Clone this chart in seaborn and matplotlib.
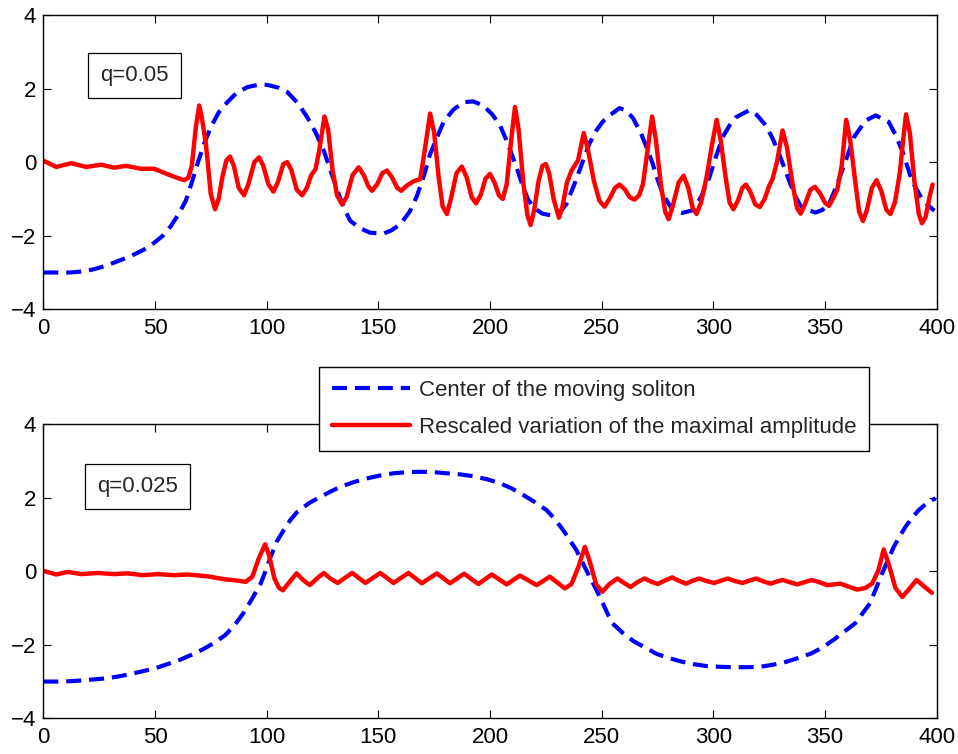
import matplotlib
matplotlib.use("Agg")
import matplotlib.pyplot as plt
import pandas as pd
import seaborn as sns

# ---- q = 0.05 (top panel) ----
top_center_x = [0, 5, 12, 17.7, 22, 27.4, 33, 39.3, 45, 49.7, 53.5, 57.1, 60.5, 63.8, 66.5, 69,
                72, 75, 78.5, 82.4, 86.5, 91.4, 96, 100.3, 105, 109.2, 114, 118.2, 122, 125.6,
                129, 132.3, 135, 137.5, 142, 146.4, 152.4, 156, 159.8, 164, 167.3, 170.5, 173.2,
                176.5, 179.2, 183.5, 188.1, 192.5, 197, 201, 204.5, 207.2, 209.7, 212.5, 214.9,
                217, 219.3, 223.5, 228.3, 231.5, 234.2, 237.8, 241.7, 244.5, 247.6, 250.5, 253.6,
                258, 261, 264, 267.7, 270.5, 272.9, 275.2, 277.4, 281.8, 286, 290.8, 294.5, 298.2,
                301.2, 304.2, 307.3, 310.1, 316.1, 319.5, 323.5, 326.5, 329.5, 334, 336.5, 339.1,
                342.5, 345.8, 348.8, 351.8, 354.5, 357.7, 360.5, 363, 368.2, 372.7, 378.6, 381.5,
                384.6, 389, 393.4, 397.2, 399]
top_center_y = [-3.0, -3.0, -3.0, -2.97, -2.92, -2.83, -2.7, -2.55, -2.38, -2.19, -2.0, -1.74,
                -1.42, -1.05, -0.55, -0.05, 0.5, 0.95, 1.35, 1.63, 1.88, 2.04, 2.1, 2.1, 2.03,
                1.91, 1.6, 1.22, 0.8, 0.31, -0.3, -0.87, -1.3, -1.6, -1.8, -1.92, -1.94, -1.85,
                -1.69, -1.35, -0.92, -0.35, 0.22, 0.7, 1.09, 1.42, 1.63, 1.65, 1.54, 1.3, 1.0,
                0.62, 0.22, -0.25, -0.69, -1.0, -1.23, -1.4, -1.46, -1.35, -1.14, -0.6, 0.04,
                0.5, 0.86, 1.1, 1.27, 1.47, 1.4, 1.2, 0.77, 0.35, -0.05, -0.5, -0.87, -1.31,
                -1.38, -1.31, -0.95, -0.42, 0.15, 0.68, 1.0, 1.22, 1.41, 1.28, 1.0, 0.65, 0.22,
                -0.51, -0.9, -1.19, -1.3, -1.37, -1.3, -1.14, -0.75, -0.23, 0.25, 0.68, 1.13,
                1.27, 1.09, 0.75, 0.31, -0.51, -1.0, -1.23, -1.32]

top_amp_x = [0, 5.8, 12.5, 19.2, 25.9, 31.8, 37, 43.8, 49.7, 55.7, 61, 63.1, 65, 66.5, 68.3,
             69.8, 71, 72.8, 75, 76.9, 78.5, 80.2, 82, 83.6, 85.3, 87.5, 89.9, 91.8, 94.5, 96.6,
             98.5, 100.8, 103, 105, 107.5, 109.2, 111, 113.5, 115.9, 118, 120, 121.9, 123.5,
             125.9, 127.5, 129.5, 131.5, 133.8, 135.8, 138.5, 141.2, 143.5, 145.5, 147.2, 149.5,
             151.8, 153.9, 156, 158.5, 160.3, 162.5, 165.8, 168.75, 170.5, 173.2, 175, 177,
             178.8, 180.7, 182.5, 185, 187.4, 189.5, 191.8, 193.75, 195.8, 198, 200, 202, 204,
             205.7, 207.5, 209.5, 211.2, 212.8, 215, 216.8, 218.2, 219.8, 221.8, 223.5, 225,
             226.5, 228.5, 230.9, 232.5, 234.5, 236.5, 239.4, 242, 244, 246.5, 249, 251.3,
             253.5, 256, 258, 260.5, 262.5, 264.7, 266.8, 268.5, 270.5, 272.6, 274.3, 276.5,
             278.5, 280, 281.8, 284.5, 286.7, 288.8, 290.8, 292.5, 294.5, 297, 299.5, 301.5,
             303.3, 305.5, 307.3, 309, 311, 313, 314.6, 316.5, 318.8, 320.8, 323, 325, 326.5,
             328.5, 331, 333, 335.5, 337.5, 339.1, 341, 343.5, 345.5, 347.8, 350, 351.8, 353.5,
             355.5, 357.5, 359.5, 361.3, 363.5, 365.3, 367, 368.8, 371, 373.1, 375.3, 377.5,
             379.3, 381.3, 383.5, 385, 386.3, 388, 390, 392, 393.4, 395, 397, 398.2]
top_amp_y = [0.04, -0.13, -0.03, -0.13, -0.07, -0.15, -0.1, -0.18, -0.18, -0.33, -0.45, -0.49,
             -0.42, -0.1, 0.95, 1.54, 1.2, 0.5, -0.87, -1.28, -1.0, -0.4, 0.05, 0.15, -0.1,
             -0.7, -0.9, -0.6, 0.0, 0.13, -0.1, -0.6, -0.8, -0.55, -0.05, 0.0, -0.2, -0.75,
             -0.9, -0.7, -0.35, -0.19, 0.3, 1.24, 0.9, -0.2, -0.9, -1.15, -0.95, -0.35, -0.14,
             -0.35, -0.65, -0.78, -0.6, -0.3, -0.23, -0.4, -0.7, -0.78, -0.65, -0.52, -0.46,
             0.2, 1.32, 0.8, -0.4, -1.2, -1.41, -1.0, -0.3, -0.12, -0.4, -0.95, -1.12, -0.9,
             -0.45, -0.32, -0.55, -0.9, -1.0, -0.6, 0.6, 1.5, 0.9, -0.6, -1.45, -1.71, -1.3,
             -0.5, -0.1, -0.05, -0.3, -1.0, -1.51, -1.2, -0.55, -0.23, 0.04, 0.79, 0.3, -0.5,
             -1.05, -1.21, -1.0, -0.7, -0.61, -0.75, -0.95, -1.02, -0.9, -0.6, 0.3, 1.24, 0.6,
             -0.6, -1.35, -1.55, -1.2, -0.55, -0.37, -0.7, -1.25, -1.41, -1.1, -0.4, 0.5, 1.15,
             0.6, -0.4, -1.1, -1.28, -1.05, -0.7, -0.61, -0.8, -1.15, -1.22, -1.0, -0.65, -0.46,
             0.0, 0.86, 0.4, -0.6, -1.25, -1.4, -1.15, -0.75, -0.67, -0.85, -1.1, -1.19, -1.0,
             -0.75, -0.1, 1.15, 0.6, -0.5, -1.35, -1.6, -1.3, -0.7, -0.49, -0.8, -1.3, -1.41,
             -1.1, -0.3, 0.6, 1.3, 0.8, -0.5, -1.4, -1.66, -1.5, -0.9, -0.61]

# ---- q = 0.025 (bottom panel) ----
bot_center_x = [0, 3, 9, 15, 21, 26.9, 33, 38.8, 44.5, 50, 55.5, 61.2, 66.5, 71.6, 76.5, 81.4,
                85.5, 89.6, 93.5, 97.3, 99.5, 101.8, 104.5, 107.7, 110.5, 113.7, 119, 124.1,
                128.5, 133, 139, 144.9, 150.8, 156.8, 162.8, 168.75, 174.7, 180.7, 186.7, 192.6,
                198.5, 204.5, 209.7, 214.9, 220, 225.3, 229, 232.7, 235.7, 238.7, 241.7, 244.6,
                247.6, 250.6, 254.5, 259.5, 264.2, 269.5, 274.7, 280, 285.9, 291.5, 297, 303,
                309, 315, 320.9, 327, 332.9, 338.5, 344.1, 349, 353.8, 358.5, 363.5, 366.8, 370.2,
                373, 375.6, 378.2, 380.8, 383.5, 386, 389, 392, 396.4, 399.5]
bot_center_y = [-3.0, -3.0, -3.0, -2.98, -2.95, -2.92, -2.87, -2.8, -2.72, -2.64, -2.53, -2.41,
                -2.27, -2.12, -1.95, -1.74, -1.48, -1.14, -0.75, -0.34, 0.0, 0.39, 0.8, 1.12,
                1.38, 1.61, 1.85, 2.02, 2.16, 2.29, 2.42, 2.52, 2.6, 2.66, 2.69, 2.7, 2.69, 2.66,
                2.63, 2.58, 2.5, 2.39, 2.25, 2.07, 1.88, 1.66, 1.42, 1.12, 0.85, 0.57, 0.2, -0.15,
                -0.5, -0.88, -1.4, -1.68, -1.9, -2.08, -2.25, -2.36, -2.46, -2.53, -2.58, -2.6,
                -2.61, -2.61, -2.6, -2.54, -2.46, -2.35, -2.23, -2.07, -1.87, -1.65, -1.42, -1.15,
                -0.87, -0.45, -0.06, 0.3, 0.66, 0.95, 1.2, 1.45, 1.66, 1.89, 1.98]

bot_amp_x = [0, 5.8, 11, 17, 24.4, 31.8, 37.8, 44.6, 51.2, 58.6, 64.6, 73.5, 81, 86, 90.6, 93.6,
             96.5, 99.3, 101, 103.5, 105.5, 107.3, 109.5, 113.4, 116.5, 119.3, 122.5, 125.6,
             128.5, 131.8, 138.3, 144.2, 150.9, 156.8, 163.5, 169.5, 176.2, 182.1, 188.4, 194.8,
             200.8, 207.5, 213.4, 220.9, 226.8, 233.5, 236.5, 239.5, 242.5, 244.5, 247.5, 250.3,
             253.5, 257, 260, 263, 266, 269.2, 272, 275.1, 278.5, 281.6, 284.5, 287.8, 290.8,
             293.8, 297, 300.4, 303.4, 306.4, 309.8, 313.1, 316, 319.1, 322.5, 325.8, 328.5,
             331, 334.3, 337.6, 340.8, 344, 347.5, 351, 354, 357, 360.5, 364.4, 368, 371.1,
             373.8, 376.3, 378.5, 381.5, 384.6, 387.5, 391, 394.5, 397.9]
bot_amp_y = [0.01, -0.09, -0.02, -0.08, -0.05, -0.08, -0.06, -0.11, -0.08, -0.11, -0.09, -0.14,
             -0.22, -0.25, -0.29, -0.15, 0.35, 0.73, 0.45, -0.2, -0.45, -0.52, -0.35, -0.06,
             -0.25, -0.38, -0.2, -0.05, -0.2, -0.32, -0.05, -0.32, -0.05, -0.32, -0.05, -0.33,
             -0.06, -0.33, -0.07, -0.35, -0.09, -0.36, -0.12, -0.38, -0.15, -0.47, -0.35, 0.1,
             0.66, 0.3, -0.35, -0.56, -0.35, -0.2, -0.32, -0.43, -0.3, -0.2, -0.28, -0.35, -0.25,
             -0.17, -0.26, -0.34, -0.26, -0.2, -0.27, -0.32, -0.26, -0.2, -0.27, -0.32, -0.26,
             -0.2, -0.28, -0.34, -0.28, -0.24, -0.3, -0.36, -0.3, -0.24, -0.3, -0.38, -0.36,
             -0.34, -0.42, -0.5, -0.46, -0.34, 0.0, 0.59, 0.2, -0.45, -0.7, -0.5, -0.24, -0.42,
             -0.59]

x_ticks = [0, 50, 100, 150, 200, 250, 300, 350, 400]
y_ticks = [-4, -2, 0, 2, 4]
labels = ["Center of the moving soliton", "Rescaled variation of the maximal amplitude"]
panel_text = ["q=0.05", "q=0.025"]

sns.set_style("ticks")
plt.rcParams["font.family"] = ["Liberation Sans", "DejaVu Sans"]
plt.rcParams["axes.unicode_minus"] = True

fig = plt.figure(figsize=(9.58, 7.54), dpi=100)
ax_top = fig.add_axes([0.0452, 0.5898, 0.9325, 0.3903])
ax_bot = fig.add_axes([0.0452, 0.0473, 0.9325, 0.3904])

panels = [
    (ax_top, top_center_x, top_center_y, top_amp_x, top_amp_y, panel_text[0], (40.8, 2.35)),
    (ax_bot, bot_center_x, bot_center_y, bot_amp_x, bot_amp_y, panel_text[1], (42.3, 2.3)),
]

for ax, cx, cy, ax_x, ax_y, txt, pos in panels:
    sns.lineplot(x=cx, y=cy, ax=ax, color="#0000ff", linewidth=3.0, estimator=None,
                 sort=False, label=labels[0])
    ax.lines[-1].set_dashes((3.6, 1.9))
    sns.lineplot(x=ax_x, y=ax_y, ax=ax, color="#ff0000", linewidth=3.2, estimator=None,
                 sort=False, label=labels[1])
    ax.get_legend().remove()
    ax.set_xlim(0, 400)
    ax.set_ylim(-4, 4)
    ax.set_xticks(x_ticks)
    ax.set_yticks(y_ticks)
    ax.tick_params(direction="in", top=True, right=True, length=6, width=0.8,
                   labelsize=16, colors="black")
    ax.tick_params(axis="x", pad=6)
    ax.tick_params(axis="y", pad=5)
    for sp in ax.spines.values():
        sp.set_visible(True)
        sp.set_linewidth(1.0)
        sp.set_color("black")
    ax.text(pos[0], pos[1], txt, ha="center", va="center", fontsize=16,
            bbox=dict(boxstyle="square,pad=0.55", fc="white", ec="black", lw=0.9))

handles = ax_top.lines[:2]
leg = fig.legend(handles, labels, loc="center", bbox_to_anchor=(0.620, 0.4577),
                 fontsize=16, frameon=True, fancybox=False, edgecolor="black",
                 framealpha=1.0, handlelength=3.5, handletextpad=0.4,
                 labelspacing=0.75, borderpad=0.58)
leg.get_frame().set_linewidth(1.0)

fig.savefig("out.png", dpi=100, facecolor="white")
